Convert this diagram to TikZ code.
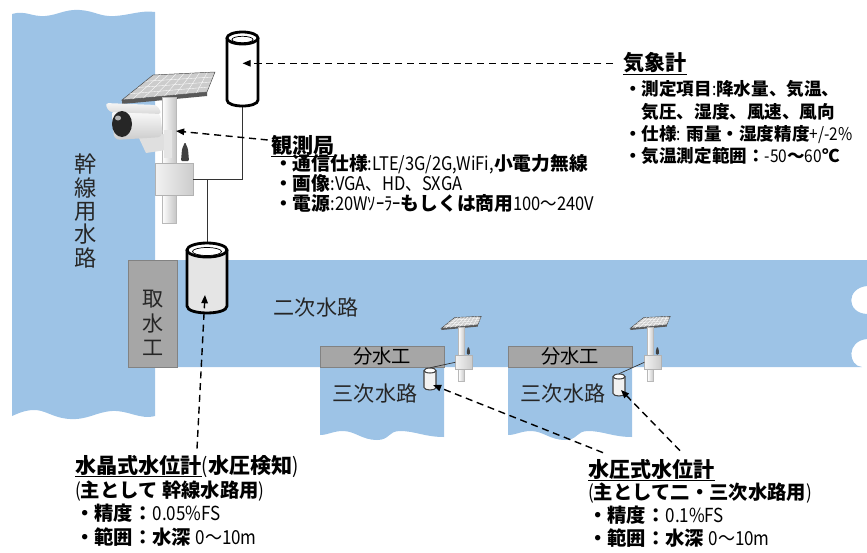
\documentclass[tikz,border=0pt]{standalone}
\usepackage{fontspec}
\setmainfont{Noto Sans CJK JP}
\newfontfamily\specfont{Noto Sans CJK JP}[FakeStretch=0.88]
\usepackage{tikz}
\usetikzlibrary{positioning, arrows.meta, calc}

\definecolor{water}{RGB}{157,195,230}
\definecolor{gate}{RGB}{166,166,166}
\definecolor{gateedge}{RGB}{130,130,130}

% thin latin/number runs inside the bold spec lines
\newcommand{\spec}[1]{{\mdseries\specfont #1}}

\tikzset{
  logger/.style={draw=gray!60, left color=gray!10, right color=gray!40,
    minimum width=1.14cm, minimum height=0.96cm, inner sep=0pt},
  station/.pic={
    % solar panel
    \fill[gray!70!black] (-47,3) -- (38,-5) -- (38,-1) -- (-47,7) -- cycle;
    \fill[gray!40, draw=gray!55!black, line width=0.4pt]
      (-47,3) -- (-16,-22) -- (46,-25) -- (38,-5) -- cycle;
    \foreach \pos in {0.125,0.25,...,0.9}
      \draw[white, line width=0.3pt] ($(-47,3)!\pos!(38,-5)$) -- ($(-16,-22)!\pos!(46,-25)$);
    \foreach \pos in {0.25,0.5,0.75}
      \draw[white, line width=0.3pt] ($(-47,3)!\pos!(-16,-22)$) -- ($(38,-5)!\pos!(46,-25)$);
    % mast, antenna, logger box
    \shade[left color=white, right color=gray!45, draw=gray!55, line width=0.3pt]
      (-7,0) rectangle (7,126);
    \fill[black!75, rounded corners=1pt] (12,64) -- (13,52) -- (16,45) -- (19,52) -- (20,64) -- cycle;
    \node[logger, transform shape] (-box) at (5,82) {};
  },
}

\begin{document}
\begin{tikzpicture}[
  x=0.03cm, y=-0.03cm,
  font=\fontsize{16}{17}\selectfont,
  title/.style={anchor=base west, inner sep=0pt, font=\bfseries\fontsize{18}{21}\selectfont},
  body/.style={anchor=base west, inner sep=0pt, align=left,
    font=\bfseries\fontsize{16}{17}\selectfont},
  gatebox/.style={draw=gateedge, fill=gate, inner sep=0pt,
    font=\fontsize{16.5}{18}\selectfont},
  canal/.style={inner sep=0pt, align=center, text=black!85},
  hull/.style={inner sep=0pt, minimum width=#1},
  gaugeline/.style={draw=black, line width=2.4pt},
  probeline/.style={draw=black!75, line width=0.9pt},
  wire/.style={black!80, line width=0.6pt},
  callout/.style={line width=1.2pt, dash pattern=on 6pt off 4pt,
    -{Triangle[length=7pt, width=5.5pt]}},
]
\useasboundingbox (0,0) rectangle (867,552);

% trunk canal
\fill[water] (12,14) .. controls (25,10) and (32,17) .. (45,16)
  .. controls (58,15) and (65,9) .. (80,10) .. controls (95,11) and (100,17) .. (115,16)
  .. controls (130,15) and (142,10) .. (155,12) -- (155,416)
  .. controls (140,420) and (128,410) .. (112,411) .. controls (96,412) and (88,420) .. (70,419)
  .. controls (52,418) and (45,409) .. (32,410) .. controls (22,411) and (17,414) .. (12,416) -- cycle;
% secondary canal
\fill[water] (150,260) -- (867,260) -- (867,286) .. controls (846,288) and (846,313) .. (867,314)
  -- (867,339) .. controls (846,341) and (848,366) .. (862,367) -- (150,367) -- cycle;
% tertiary canals
\foreach \dx in {0,188}
  \fill[water] ({320+\dx},360) -- ({444+\dx},360) -- ({444+\dx},437)
    .. controls ({425+\dx},437) and ({415+\dx},431) .. ({400+\dx},431)
    .. controls ({388+\dx},431) and ({390+\dx},440) .. ({377+\dx},440)
    .. controls ({362+\dx},440) and ({355+\dx},431) .. ({343+\dx},431)
    .. controls ({333+\dx},431) and ({328+\dx},435) .. ({320+\dx},435) -- cycle;

% gates
\node[gatebox, minimum width=1.47cm, minimum height=3.21cm] (intake) at (152.5,313.5) {};
\node[canal, font=\fontsize{18}{21}\selectfont] (intakeText) at (153,323) {取\\水\\工};
\node[gatebox, minimum width=3.72cm, minimum height=0.63cm] (bunA) at (382,356.5) {分水工};
\node[gatebox, minimum width=3.72cm, minimum height=0.63cm] (bunB) at (570,356.5) {分水工};

% canal names
\node[canal, font=\fontsize{19}{20}\selectfont] (trunkText) at (86,211) {幹\\線\\用\\水\\路};
\node[canal, font=\fontsize{18}{21}\selectfont] (secondText) at (316,307) {二次水路};
\node[canal, font=\fontsize{18}{21}\selectfont] (thirdA) at (375,393) {三次水路};
\node[canal, font=\fontsize{18}{21}\selectfont] (thirdB) at (563,393) {三次水路};

% masts
\pic (mast) at (169,97) {station};
\pic[scale=0.43] (stA) at (461.5,327) {station};
\pic[scale=0.43] (stB) at (650.5,327) {station};

% camera on the main mast
\fill[gray!25] (138,136) -- (166,134) -- (166,150) -- (146,153) -- cycle;
\fill[gray!20] (164,130) rectangle (172,158);
\shade[top color=white, bottom color=gray!40, rounded corners=5pt]
  (112,108) -- (160,112) -- (163,137) -- (114,140) -- cycle;
\shade[top color=gray!8, bottom color=gray!30, rounded corners=3pt]
  (105,103) -- (157,105) -- (162,114) -- (109,112) -- cycle;
\fill[black!85] (122,124) ellipse [x radius=10, y radius=13];
\fill[gray!60] (118,118) ellipse [x radius=3, y radius=2.5];

% gauge outlines, named by their hull nodes
\node[hull=0.93cm, minimum height=2.22cm] (kisho) at (242.5,69) {};
\node[hull=1.2cm, minimum height=2.1cm] (suisho) at (207,278) {};
\node[hull=0.36cm, minimum height=0.66cm] (sensA) at (430,379) {};
\node[hull=0.36cm, minimum height=0.66cm] (sensB) at (619,385) {};

% cabling
\draw[wire] (kisho.south) |- (mast-box.east);
\draw[wire] (mast-box.east -| suisho.north) -- (suisho.north);
\draw[wire] (stA-box.west) -- (sensA.north);
\draw[wire] (stB-box.west) -- (sensB.north);

\draw[gaugeline, fill=white] (227,38) -- (227,100) .. controls (227,108) and (258,108) .. (258,100) -- (258,38);
\draw[gaugeline, fill=white] (242.5,38) ellipse [x radius=15.5, y radius=6];
\draw[line width=0.6pt] (242.5,39.5) ellipse [x radius=10.5, y radius=3.2];
\draw[gaugeline, fill=gray!20] (187,250) -- (187,306) .. controls (187,315.3) and (227,315.3) .. (227,306) -- (227,250);
\draw[gaugeline, fill=white] (207,250) ellipse [x radius=20, y radius=7];
\draw[line width=0.6pt] (207,251.5) ellipse [x radius=14.5, y radius=4];
\draw[probeline, fill=gray!10] (424,370.5) -- (424,387.5) .. controls (424,390.8) and (436,390.8) .. (436,387.5) -- (436,370.5);
\draw[probeline, fill=white] (430,370.5) ellipse [x radius=6, y radius=2.5];
\draw[probeline, fill=gray!10] (613,376.5) -- (613,393.5) .. controls (613,396.8) and (625,396.8) .. (625,393.5) -- (625,376.5);
\draw[probeline, fill=white] (619,376.5) ellipse [x radius=6, y radius=2.5];

% spec texts
\node[title] (kishoTitle) at (623,70) {\underline{気象計}};
\node[body, font=\bfseries\fontsize{15}{19}\selectfont] (kishoSpec) at (624,162.7)
  {・測定項目\spec{:}降水量、気温、\\　気圧、湿度、風速、風向\\・仕様\spec{:} 雨量・湿度精度\spec{+/-2\%}\\・気温測定範囲：\spec{-50}〜\spec{60}℃};
\node[title] (kansokuTitle) at (271,153) {\underline{観測局}};
\node[body] (kansokuSpec) at (274,210)
  {・通信仕様\spec{:LTE/3G/2G,WiFi,}小電力無線\\・画像\spec{:VGA、HD、SXGA}\\・電源\spec{:20Wｿｰﾗｰ}もしくは商用\spec{100〜240V}};
\node[title] (suishoTitle) at (75,473) {\underline{水晶式水位計}\spec{(}水圧検知\spec{)}};
\node[body, font=\bfseries\fontsize{16.5}{20}\selectfont] (suishoSpec) at (75,544.4)
  {\spec{(}主として 幹線水路用\spec{)}\\・精度：\spec{0.05\%FS}\\・範囲：水深 \spec{0〜10m}};
\node[title] (suiatsuTitle) at (588,477) {\underline{水圧式水位計}};
\node[body, font=\bfseries\fontsize{16.5}{19.5}\selectfont] (suiatsuSpec) at (588,545.4)
  {\spec{(}主として二・三次水路用\spec{)}\\・精度：\spec{0.1\%FS}\\・範囲：水深 \spec{0〜10m}};

% callouts
\coordinate (mastMark) at (176,131);
\draw[callout, shorten <=0.3cm] (kishoTitle.west) -- (kishoTitle.west -| kisho.center);
\draw[callout, shorten <=0.1cm] ([yshift=5pt]kansokuTitle.west) -- (mastMark);
\draw[callout] ($(suishoTitle.north west)+(122,-6)$) -- ($(suisho.center)+(-2,17)$);
\draw[callout] ($(suiatsuTitle.north west)+(15,-6)$) -- ($(sensA.center)+(3,6)$);
\draw[callout] ($(suiatsuTitle.north west)+(92,-8)$) -- ($(sensB.center)+(2,5)$);
\end{tikzpicture}
\end{document}
